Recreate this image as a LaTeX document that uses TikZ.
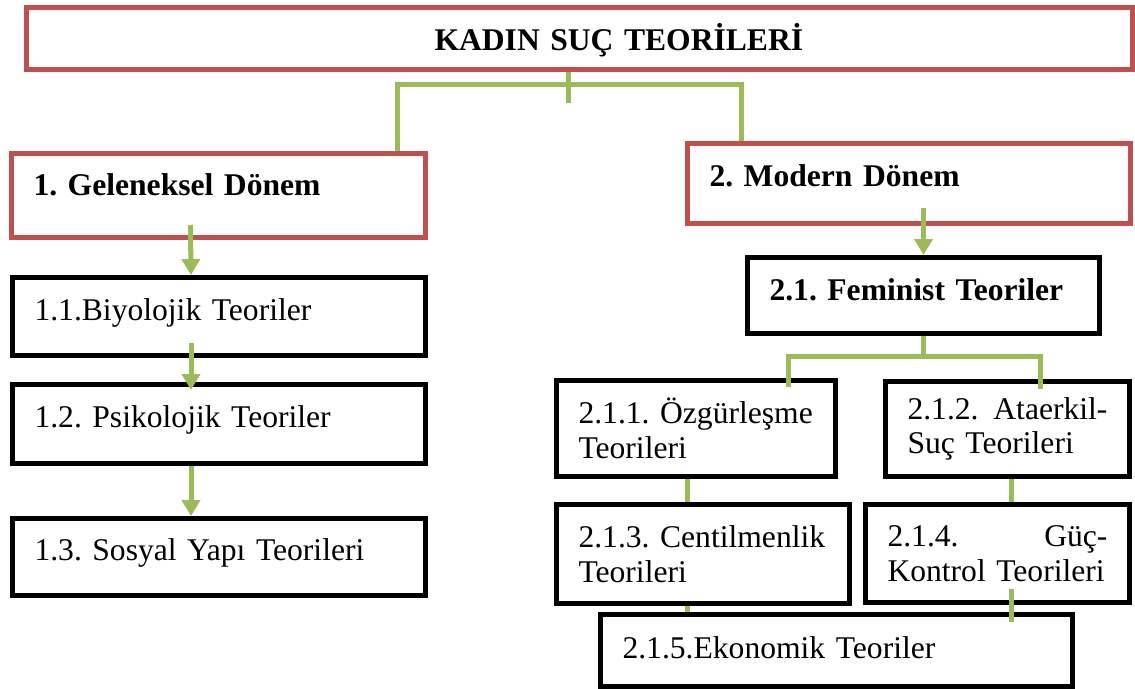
\documentclass[tikz,border=0pt]{standalone}
\usepackage{fontspec}
\setmainfont{Liberation Serif}
\usepackage{xcolor}
\usepackage{tikz}
\newcommand{\bodysize}{\fontsize{31.6}{34.5}\selectfont\frenchspacing}
\definecolor{boxred}{HTML}{C0504D}
\definecolor{linkgreen}{HTML}{9BBB59}
\usetikzlibrary{arrows.meta}

\begin{document}
\begin{tikzpicture}[x=1pt, y=-1pt,
    nodebox/.style={rectangle, anchor=north west, align=left, inner xsep=22pt, inner ysep=0pt, line width=5pt, fill=white, font=\bodysize},
    redbox/.style={nodebox, draw=boxred, font=\bodysize\bfseries},
    blackbox/.style={nodebox, draw=black},
    boldtext/.style={font=\bodysize\bfseries},
    oneline/.style={text height=22pt, text depth=#1},
    greenline/.style={draw=linkgreen, line width=5pt},
    greenarrow/.style={greenline, -{Triangle[width=18pt, length=16pt]}}]
    \useasboundingbox (0,0) rectangle (1135,688);

    % Title
    \node[redbox, oneline=2pt, text height=26pt, text width=1062pt, minimum height=62pt] (top) at (24,5) {\hspace*{386pt}KADIN SUÇ TEORİLERİ};

    % Periods
    \node[redbox, oneline=23pt, text width=370pt, minimum height=84pt] (gel) at (9,151) {1. Geleneksel Dönem};
    \node[redbox, oneline=17pt, text width=399pt, minimum height=80pt] (modern) at (685,141) {2. Modern Dönem};
    \coordinate (fork) at (568,84);
    \draw[greenline] (top.south -| fork) -- ([yshift=-19pt]fork);
    \draw[greenline] ([xshift=-31pt]gel.north east) |- (fork) -| ([xshift=56pt]modern.north west);

    % Traditional theories
    \node[blackbox, oneline=15pt, text width=369pt, minimum height=78pt] (bio) at (10,275) {1.1.Biyolojik Teoriler};
    \node[blackbox, oneline=16pt, text width=369pt, minimum height=79pt] (psy) at (10,382) {1.2. Psikolojik Teoriler};
    \node[blackbox, oneline=16pt, text width=369pt, minimum height=77pt] (soc) at (10,516) {1.3. Sosyal Yapı Teorileri};
    \draw[greenarrow] ([xshift=-28pt,yshift=15pt]gel.south) -- ([xshift=-28pt]bio.north);
    \draw[greenarrow] ([xshift=-28pt,yshift=15pt]bio.south) -- ([xshift=-28pt,yshift=-8pt]psy.north);
    \draw[greenarrow] ([xshift=-28pt]psy.south) -- ([xshift=-28pt]soc.north);

    % Feminist theories
    \node[blackbox, boldtext, oneline=13pt, text width=308pt, minimum height=76pt] (fem) at (745,255) {2.1. Feminist Teoriler};
    \draw[greenarrow] ([yshift=18pt]modern.south -| fem.north) -- (fem.north);

    \node[blackbox, text width=235pt, minimum height=96pt] (lib) at (554,378) {2.1.1.~Özgürleşme\\Teorileri};
    \node[blackbox, text width=200pt, minimum height=95pt] (pat) at (883,379) {2.1.2.\hfill Ataerkil-\\Suç Teorileri};
    \node[blackbox, text width=249pt, minimum height=99pt] (gent) at (554,502) {2.1.3.~Centilmenlik\\Teorileri};
    \node[blackbox, text width=220pt, minimum height=98pt] (pow) at (863,502) {2.1.4.\hfill Güç-\\Kontrol~Teorileri};
    \node[blackbox, oneline=7pt, text width=428pt, minimum height=72pt] (eco) at (598,612) {2.1.5.Ekonomik Teoriler};

    \draw[greenline] (fem.south) -- ++(0,20) coordinate (fork2);
    \draw[greenline] ([xshift=-50pt,yshift=-9pt]lib.north east) |- (fork2) -| ([xshift=33pt,yshift=-10pt]pat.north);
    \draw[greenline] ([xshift=-8.5pt]lib.south) -- ([xshift=-8.5pt]lib.south |- gent.north);
    \draw[greenline] ([xshift=4pt]pat.south) -- ([xshift=4pt]pat.south |- pow.north);
    \draw[greenline] ([xshift=-15.5pt]gent.south) -- ([xshift=-15.5pt]gent.south |- eco.north);
    \draw[greenline] ([xshift=14pt,yshift=16pt]pow.south) -- ([xshift=14pt,yshift=-10pt]pow.south |- eco.north);
\end{tikzpicture}
\end{document}
